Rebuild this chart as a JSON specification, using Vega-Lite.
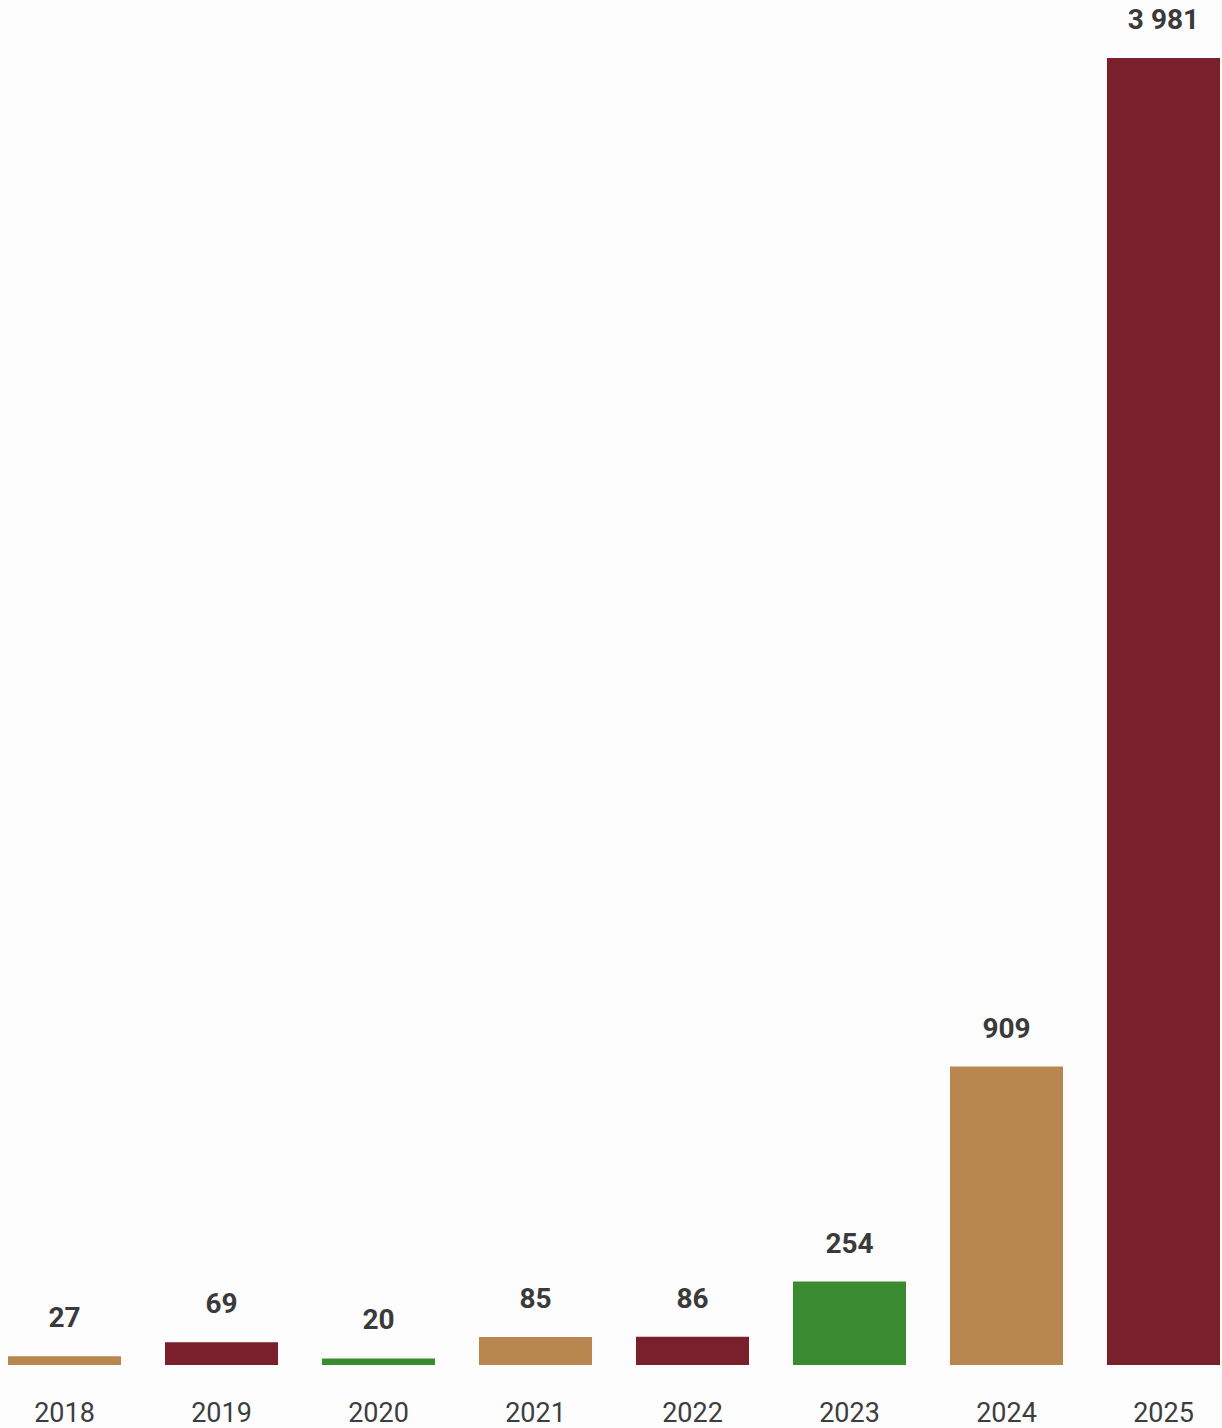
{
  "$schema": "https://vega.github.io/schema/vega-lite/v6.json",
  "autosize": "none",
  "width": 1212,
  "height": 1307,
  "padding": {"left": 8, "top": 58, "right": 2, "bottom": 63},
  "background": "#fdfdfd",
  "config": {
    "view": {"stroke": null},
    "locale": {"number": {"decimal": ",", "thousands": " ", "grouping": [3], "currency": ["", ""]}}
  },
  "data": {
    "values": [
      {"year": "2018", "value": 27, "group": "a"},
      {"year": "2019", "value": 69, "group": "b"},
      {"year": "2020", "value": 20, "group": "c"},
      {"year": "2021", "value": 85, "group": "a"},
      {"year": "2022", "value": 86, "group": "b"},
      {"year": "2023", "value": 254, "group": "c"},
      {"year": "2024", "value": 909, "group": "a"},
      {"year": "2025", "value": 3981, "group": "b"}
    ]
  },
  "encoding": {
    "x": {
      "field": "year",
      "type": "nominal",
      "sort": null,
      "scale": {"paddingInner": 0.28, "paddingOuter": 0},
      "axis": {
        "title": null,
        "domain": false,
        "ticks": false,
        "labelAngle": 0,
        "labelFont": "Roboto",
        "labelFontSize": 27,
        "labelColor": "#3d3d3d",
        "labelBaseline": "alphabetic",
        "labelPadding": 56
      }
    },
    "y": {
      "field": "value",
      "type": "quantitative",
      "scale": {"domain": [0, 3981], "nice": false},
      "axis": null
    }
  },
  "layer": [
    {
      "mark": {"type": "bar"},
      "encoding": {
        "color": {
          "field": "group",
          "type": "nominal",
          "scale": {"domain": ["a", "b", "c"], "range": ["#b8874f", "#7a1f2c", "#3a8a2f"]},
          "legend": null
        }
      }
    },
    {
      "mark": {
        "type": "text",
        "font": "Roboto",
        "fontWeight": "bold",
        "fontSize": 28,
        "color": "#3a3a3a",
        "baseline": "alphabetic",
        "dy": -29
      },
      "encoding": {
        "text": {"field": "value", "type": "quantitative", "format": ",d"}
      }
    }
  ]
}
